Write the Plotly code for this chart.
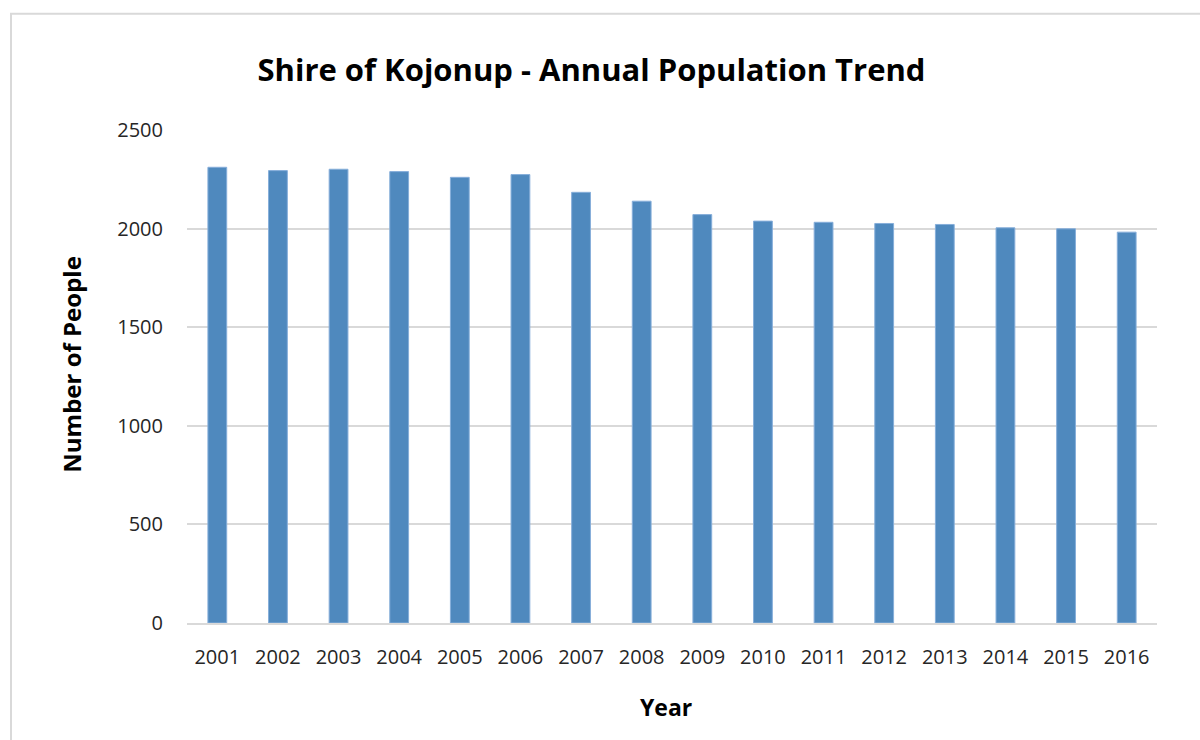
import plotly.graph_objects as go

years = ["2001", "2002", "2003", "2004", "2005", "2006", "2007", "2008",
         "2009", "2010", "2011", "2012", "2013", "2014", "2015", "2016"]
population = [2311, 2294, 2301, 2289, 2260, 2274, 2184, 2139,
              2071, 2038, 2032, 2026, 2021, 2004, 1999, 1982]
y_ticks = [0, 500, 1000, 1500, 2000, 2500]

FONT = "Open Sans"

fig = go.Figure()
fig.add_trace(go.Bar(
    x=years, y=population,
    marker=dict(color="#4F89BE", line=dict(color="#86AEDA", width=1)),
))

W, H = 1200, 740
L, R, T, B = 187, 43, 130, 117
PW, PH = W - L - R, H - T - B

fig.update_layout(
    width=W, height=H,
    margin=dict(l=L, r=R, t=T, b=B),
    paper_bgcolor="white", plot_bgcolor="white",
    showlegend=False,
    bargap=0.69,
    font=dict(family=FONT, color="#404040", size=20),
    title=dict(text="<b>Shire of Kojonup - Annual Population Trend</b>",
               x=591.5 / W, xref="container", xanchor="center",
               y=1 - 70 / H, yref="container", yanchor="middle",
               font=dict(family=FONT, size=31, color="black")),
    xaxis=dict(showgrid=False, showline=True, linecolor="#D9D9D9", linewidth=2,
               ticks="outside", ticklen=15, tickcolor="rgba(0,0,0,0)",
               tickfont=dict(size=20, color="#262626")),
    yaxis=dict(range=[0, 2500], tickvals=y_ticks, showgrid=True,
               gridcolor="#D9D9D9", gridwidth=2, zeroline=False,
               showline=False, ticks="outside", ticklen=19,
               tickcolor="rgba(0,0,0,0)",
               tickfont=dict(size=20, color="#262626")),
    annotations=[
        dict(text="<b>Number of People</b>", xref="paper", yref="paper",
             x=(72 - L) / PW, y=(623.3 - 365) / PH,
             textangle=-90, showarrow=False, xanchor="center", yanchor="middle",
             font=dict(family=FONT, size=24, color="black")),
        dict(text="<b>Year</b>", xref="paper", yref="paper",
             x=(666 - L) / PW, y=(623.3 - 707) / PH,
             showarrow=False, xanchor="center", yanchor="middle",
             font=dict(family=FONT, size=23, color="black")),
    ],
    shapes=[
        dict(type="rect", xref="paper", yref="paper",
             x0=(11 - L) / PW, x1=(1260 - L) / PW,
             y0=(623.3 - 800) / PH, y1=(623.3 - 14) / PH,
             line=dict(color="#D9D9D9", width=2), fillcolor="rgba(0,0,0,0)",
             layer="below"),
    ],
)

fig.write_html(
    "out.html",
    config={"displayModeBar": False},
    post_script="document.body.style.margin='0';document.body.style.padding='0';"
                "document.body.style.overflow='hidden';",
)
